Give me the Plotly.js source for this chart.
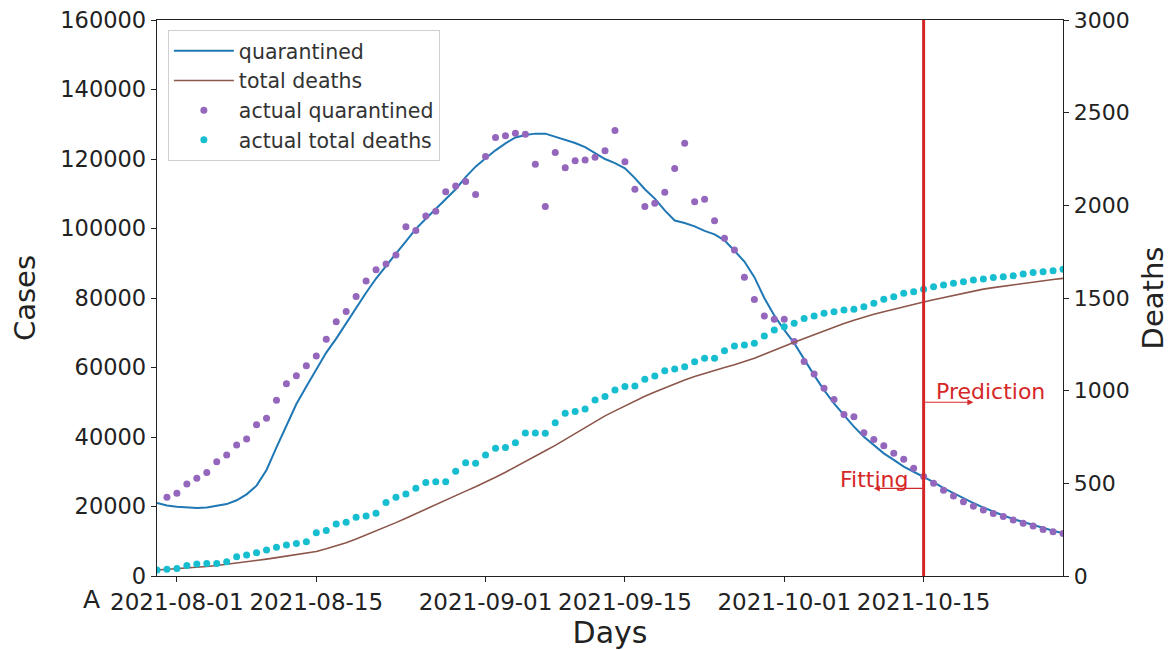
<!DOCTYPE html>
<html>
<head>
<meta charset="utf-8">
<script src="https://cdn.plot.ly/plotly-3.0.1.min.js"></script>
<style>html,body{margin:0;padding:0;background:#fff;}#chart{width:1175px;height:650px;}</style>
</head>
<body>
<div id="chart"></div>
<script>
// ---- data (day 0 = 2021-07-30, one value per day) ----
const startDate = '2021-07-30';
const xTickVals = ['2021-08-01','2021-08-15','2021-09-01','2021-09-15','2021-10-01','2021-10-15'];
const splitDate = '2021-10-15';

const quarantinedModel = [
  21000,20300,19900,19700,19600,19700,20100,20700,21800,23500,
  26000,30500,37000,43500,49500,54500,59500,64300,68300,72800,
  77300,81500,85600,89300,92800,96300,99900,102800,105600,108500,
  111300,114800,117800,120200,122500,124500,126200,126900,127300,127300,
  126400,125400,124600,123400,121800,120000,118800,117300,114500,111300,
  108600,105200,102300,101600,100600,99300,98300,96600,93600,90500,
  86000,80000,75000,70800,67000,62200,57800,53500,49700,46300,
  43000,40100,37700,35300,33400,31500,30000,28600,27000,25300,
  23800,22300,21000,19700,18500,17400,16400,15500,14600,13800,
  13000,12300
];
const deathsModel = [
  32,35,38,42,46,51,57,63,69,76,
  83,91,99,107,115,123,132,147,163,180,
  200,221,242,264,288,312,337,361,385,410,
  434,458,482,506,533,560,588,617,646,676,
  705,737,767,800,832,864,891,918,945,970,
  993,1016,1037,1058,1077,1094,1110,1125,1140,1157,
  1175,1197,1220,1240,1261,1282,1303,1323,1342,1362,
  1380,1397,1412,1426,1440,1452,1465,1478,1491,1503,
  1515,1526,1537,1548,1556,1564,1572,1580,1587,1594,
  1600,1606
];
const quarantinedActual = [
  null,22650,23800,26500,28100,29800,32900,34800,37700,39400,
  43500,45400,50600,55300,57600,60500,63300,68100,73200,76100,
  80400,84900,88100,89800,92400,100500,99400,103600,105000,110600,
  112200,113500,109800,120700,126200,126700,127400,127100,118500,106300,
  121900,117500,119500,119700,120500,122400,128200,119200,111300,106300,
  107300,110400,117300,124500,107700,108400,102200,97200,93800,86000,
  79600,74800,73900,73900,67500,61700,58100,54000,50800,46500,
  45800,41200,39300,37500,35300,33600,31000,28600,26700,24700,
  23000,21400,20100,19000,18000,17100,16100,15200,14400,13400,
  12700,12200
];
const deathsActual = [
  32,36,41,56,65,68,68,77,104,113,
  126,140,155,167,176,185,234,245,281,290,
  317,324,338,396,425,442,473,504,509,509,
  565,611,608,653,689,694,719,772,772,770,
  827,878,887,901,950,968,1004,1022,1025,1061,
  1079,1108,1117,1129,1156,1175,1175,1216,1241,1247,
  1256,1295,1327,1345,1364,1390,1403,1418,1426,1435,
  1439,1453,1472,1493,1507,1525,1534,1547,1561,1570,
  1579,1588,1597,1603,1610,1615,1620,1630,1637,1642,
  1647,1655
];

function dayDates(n){
  const out=[]; const t0=Date.parse(startDate+'T00:00:00Z');
  for(let i=0;i<n;i++){ out.push(new Date(t0+i*86400000).toISOString().slice(0,10)); }
  return out;
}
const days = dayDates(quarantinedModel.length);

const FONT = 'DejaVu Sans, Liberation Sans, sans-serif';
const TXT = '#222';
const RED = '#d62728';

const traces = [
  {x:days, y:quarantinedModel, type:'scatter', mode:'lines', name:'quarantined',
   line:{color:'#1f77b4', width:2}, yaxis:'y'},
  {x:days, y:deathsModel, type:'scatter', mode:'lines', name:'total deaths',
   line:{color:'#8c564b', width:1.6}, yaxis:'y2'},
  {x:days, y:quarantinedActual, type:'scatter', mode:'markers', name:'actual quarantined',
   marker:{color:'#9467bd', size:7}, yaxis:'y'},
  {x:days, y:deathsActual, type:'scatter', mode:'markers', name:'actual total deaths',
   marker:{color:'#17becf', size:7}, yaxis:'y2'}
];

const layout = {
  width:1175, height:650,
  margin:{l:157, r:112, t:20, b:74},
  paper_bgcolor:'#fff', plot_bgcolor:'#fff',
  font:{family:FONT, color:TXT, size:22},
  showlegend:true,
  legend:{x:0.012, y:0.982, xanchor:'left', yanchor:'top',
    bgcolor:'rgba(255,255,255,0.9)', bordercolor:'#d0d0d0', borderwidth:1,
    font:{family:FONT, size:20.5, color:'#333'}, tracegroupgap:0, itemwidth:60},
  xaxis:{type:'date', range:[startDate, days[days.length-1]],
    tickvals:xTickVals, ticktext:xTickVals, tickangle:0,
    showline:true, linecolor:TXT, linewidth:1.3, mirror:true,
    ticks:'outside', ticklen:5, tickcolor:TXT, showgrid:false, zeroline:false,
    tickfont:{family:FONT, size:23, color:TXT},
    title:{text:'Days', font:{family:FONT, size:30, color:TXT}, standoff:4}},
  yaxis:{range:[0,160000], dtick:20000, tickformat:'d',
    showline:true, linecolor:TXT, linewidth:1.3,
    ticks:'outside', ticklen:5, tickcolor:TXT, showgrid:false, zeroline:false,
    tickfont:{family:FONT, size:22.5, color:TXT},
    title:{text:'Cases', font:{family:FONT, size:29, color:TXT}, standoff:16}},
  yaxis2:{range:[0,3000], dtick:500, tickformat:'d', overlaying:'y', side:'right',
    showline:true, linecolor:TXT, linewidth:1.3,
    ticks:'outside', ticklen:5, tickcolor:TXT, showgrid:false, zeroline:false,
    tickfont:{family:FONT, size:22, color:TXT},
    title:{text:'Deaths', font:{family:FONT, size:29, color:TXT}, standoff:14}},
  shapes:[
    {type:'line', xref:'x', yref:'paper', x0:splitDate, x1:splitDate, y0:0, y1:1,
     line:{color:RED, width:3}}
  ],
  annotations:[
    {text:'Prediction', xref:'x', yref:'y', x:'2021-10-16', y:53000, xanchor:'left', yanchor:'middle',
     showarrow:false, font:{family:FONT, size:22, color:RED}},
    {text:'Fitting', xref:'x', yref:'y', x:'2021-10-10', y:27900, xanchor:'center', yanchor:'middle',
     showarrow:false, font:{family:FONT, size:22, color:RED}},
    {text:'', xref:'x', yref:'y', x:'2021-10-20', y:50000, axref:'x', ayref:'y', ax:splitDate, ay:50000,
     showarrow:true, arrowhead:2, arrowsize:1, arrowwidth:1.2, arrowcolor:RED, font:{size:1}},
    {text:'', xref:'x', yref:'y', x:'2021-10-10', y:25200, axref:'x', ayref:'y', ax:splitDate, ay:25200,
     showarrow:true, arrowhead:2, arrowsize:1, arrowwidth:1.2, arrowcolor:RED, font:{size:1}},
    {text:'A', xref:'paper', yref:'paper', x:-0.072, y:-0.043, xanchor:'center', yanchor:'middle',
     showarrow:false, font:{family:FONT, size:25, color:TXT}}
  ]
};

Plotly.newPlot('chart', traces, layout, {displayModeBar:false, staticPlot:true});
</script>
</body>
</html>
